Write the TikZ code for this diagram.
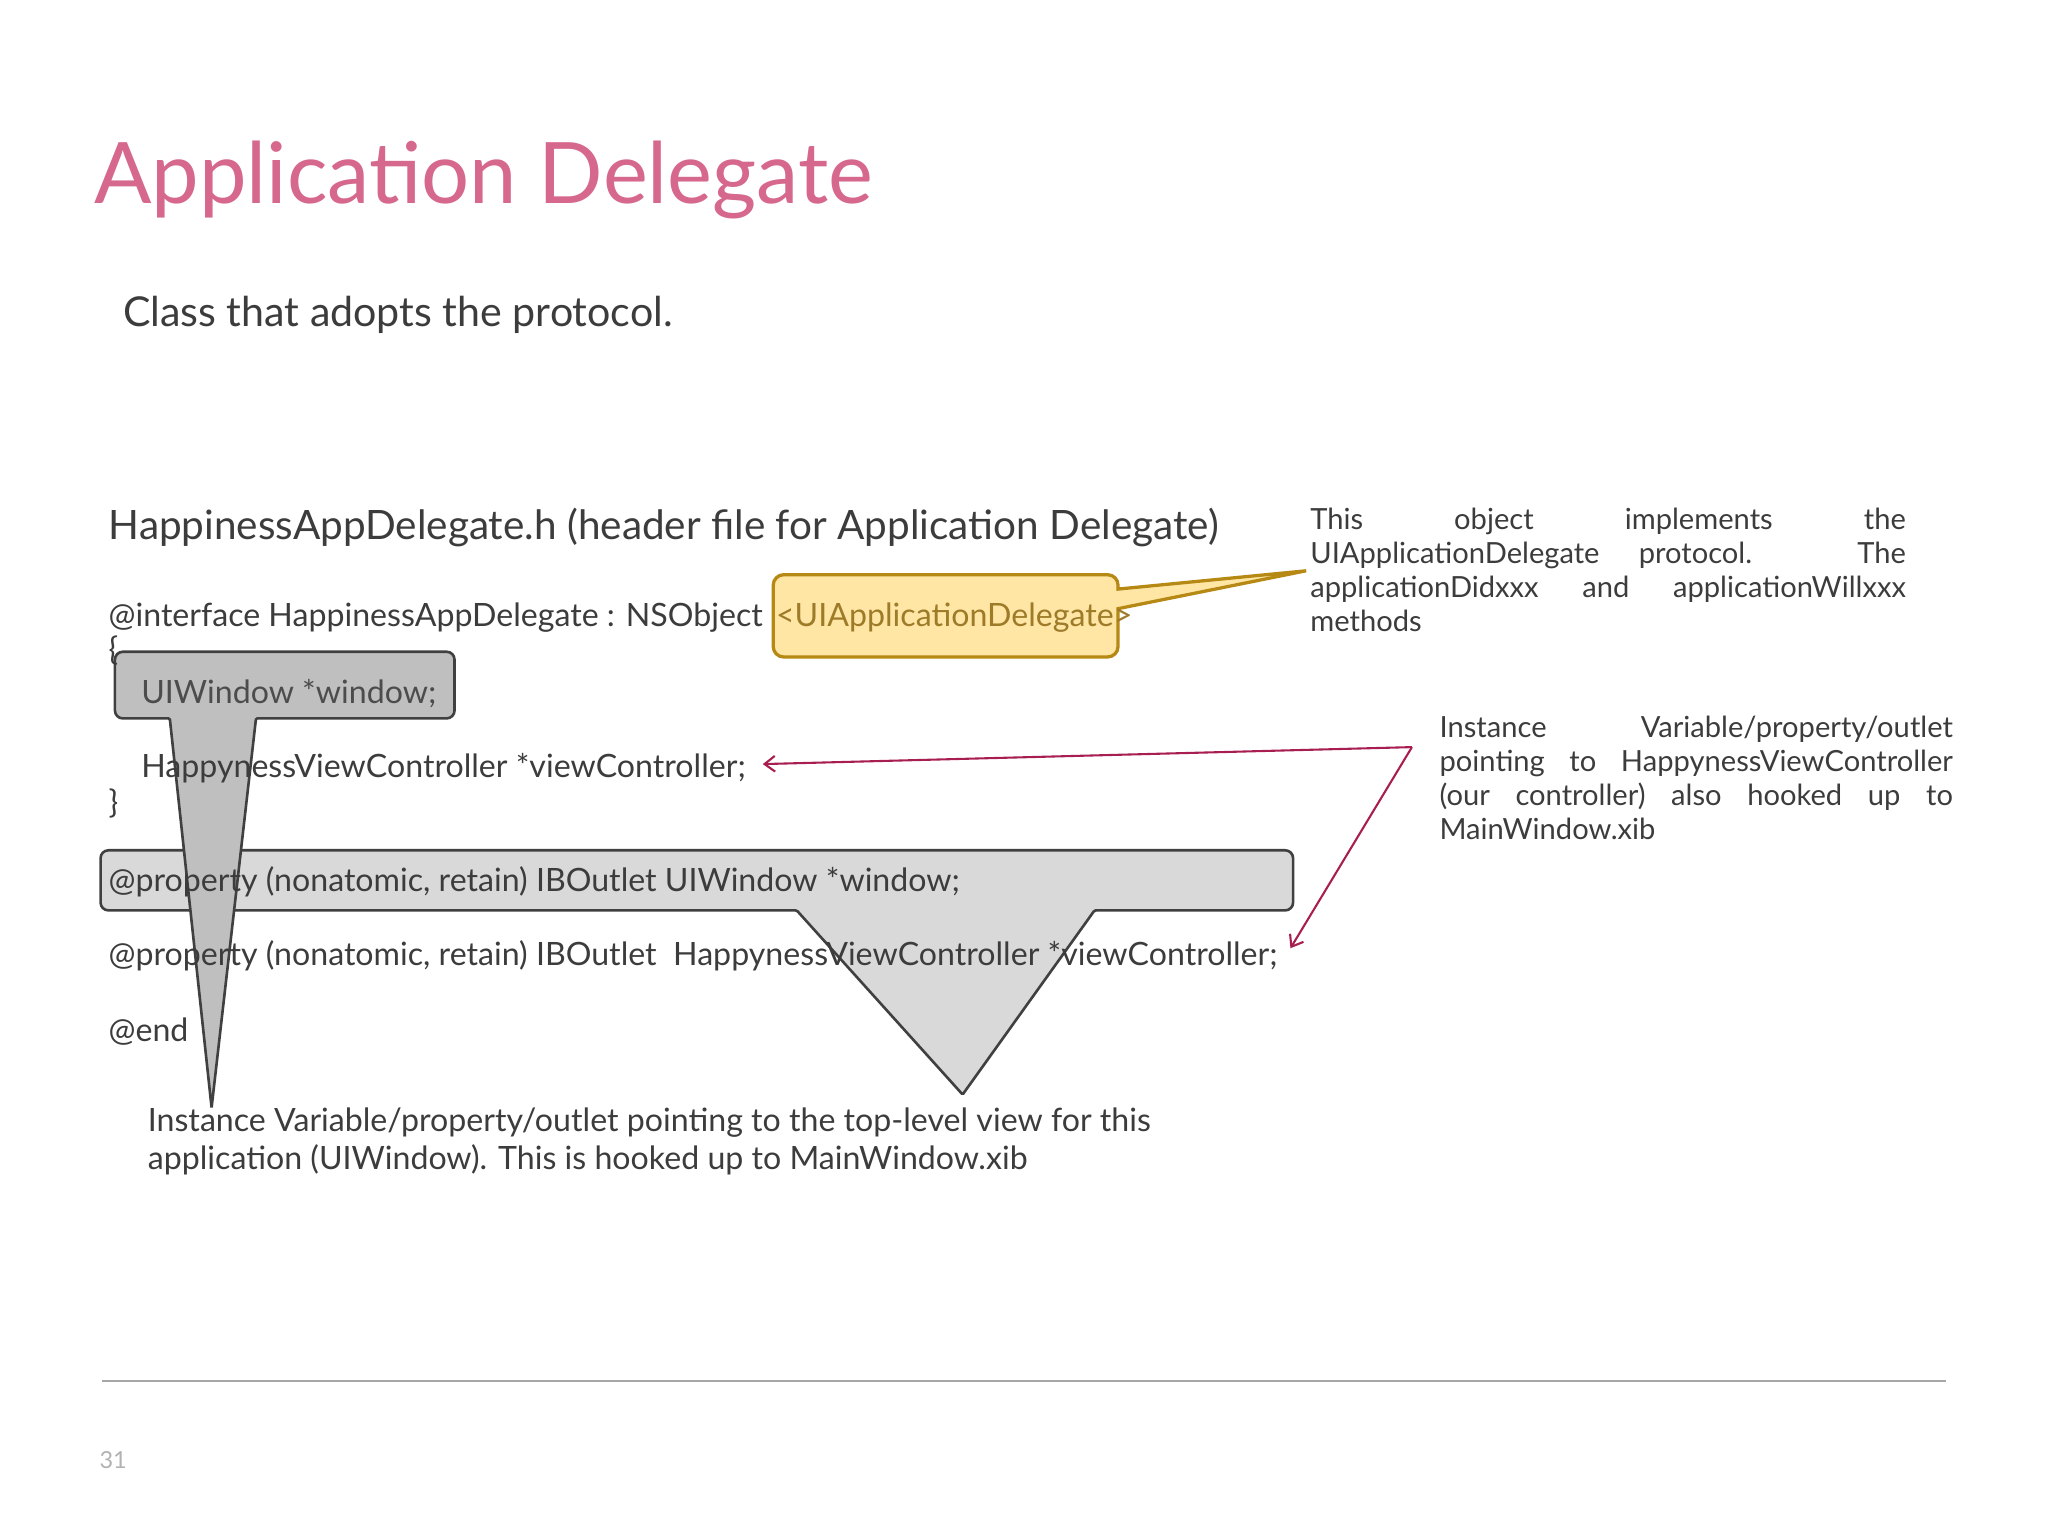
\documentclass[tikz,border=0pt]{standalone}
\usepackage{fontspec}
\setmainfont{Lato}
\definecolor{titlepink}{RGB}{214,104,142}
\definecolor{txt}{RGB}{60,60,60}
\definecolor{ylfill}{RGB}{255,230,165}
\definecolor{yledge}{RGB}{182,136,20}
\definecolor{arr}{RGB}{168,30,80}
\usetikzlibrary{arrows.meta}
\tikzset{
 code/.style={anchor=west,inner sep=0pt,font=\fontsize{24.6}{30}\selectfont,text=txt},
 note/.style={anchor=north west,inner sep=0pt,align=justify,font=\fontsize{22.3}{26}\selectfont,text=txt},
 callgray/.style={draw=black!75,line width=2pt,rounded corners=6pt,fill=black!25,fill opacity=0.85},
 arrowline/.style={draw=arr,line width=1.6pt,-{Straight Barb[length=8pt,width=12pt]}}
}
\begin{document}
\begin{tikzpicture}[x=1pt,y=-1pt]
\useasboundingbox (0,0) rectangle (1568,1176);
% gray callout 2 (behind text)
\path[callgray,fill=black!15,fill opacity=1] (77,651) -- (990,651) -- (990,697) [rounded corners=1pt]-- (838,697) -- (737,838) -- (610,697) [rounded corners=6pt]-- (77,697) -- cycle;
% gray callout 1
\path[callgray,fill opacity=1] (88,499) -- (348,499) -- (348,550) [rounded corners=1pt]-- (196,550) -- (162,848) -- (130,550) [rounded corners=6pt]-- (88,550) -- cycle;
\node[anchor=west,inner sep=0pt,text=titlepink,font=\fontsize{65}{78}\selectfont] (title) at (72,138) {Application Delegate};
\node[anchor=west,inner sep=0pt,text=txt,font=\fontsize{31.5}{36}\selectfont] (sub) at (94,241) {Class that adopts the protocol.};
\node[anchor=west,inner sep=0pt,text=txt,font=\fontsize{31}{36}\selectfont] (hdr) at (83,404) {HappinessAppDelegate.h (header file for Application Delegate)};
\node[code] (l1) at (83,473) {@interface HappinessAppDelegate : NSObject};
\node[code] (l2) at (83,498) {\{};
\node[code,text=black!70] (win) at (108,531) {UIWindow *window;};
\node[code] (l4) at (108,588) {HappynessViewController *viewController;};
\node[code] (l5) at (83,615) {\}};
\node[code] (l6) at (83,675) {@property (nonatomic, retain) IBOutlet UIWindow *window;};
\node[code] (l7) at (83,732) {@property (nonatomic, retain) IBOutlet\ \ HappynessViewController *viewController;};
\node[code] (l8) at (83,790) {@end};
\node[code,anchor=north west,align=left,font=\fontsize{24.6}{29}\selectfont] (bot) at (113,848) {Instance Variable/property/outlet pointing to the top-level view for this\\application (UIWindow). This is hooked up to MainWindow.xib};
% yellow callout
\path[draw=yledge,line width=2.5pt,fill=ylfill,rounded corners=8pt] (592,440) -- (856,440) [sharp corners]-- (856,451) -- (1000,437) -- (856,466) [rounded corners=8pt]-- (856,503) -- (592,503) -- cycle;
\node[code,text=yledge!80!black!90] (ud) at (594,473) {<UIApplicationDelegate>};
% notes
\node[note,text width=456pt] (n1) at (1003,389) {This object implements the\linebreak UIApplicationDelegate protocol. The\linebreak applicationDidxxx and applicationWillxxx\linebreak methods};
\node[note,text width=393pt] (n2) at (1102,548) {Instance Variable/property/outlet\linebreak pointing to HappynessViewController\linebreak (our controller) also hooked up to\linebreak MainWindow.xib};
\coordinate (src) at (1081,572);
\coordinate (t1) at (584,585);
\coordinate (t2) at (988,726);
\draw[arrowline] (src) -- (t1);
\draw[arrowline] (src) -- (t2);
\draw[black!35,line width=1.5pt] (78,1057) -- (1490,1057);
\node[anchor=west,inner sep=0pt,text=black!30,font=\fontsize{18}{20}\selectfont] (pg) at (76,1118) {31};
\end{tikzpicture}
\end{document}
